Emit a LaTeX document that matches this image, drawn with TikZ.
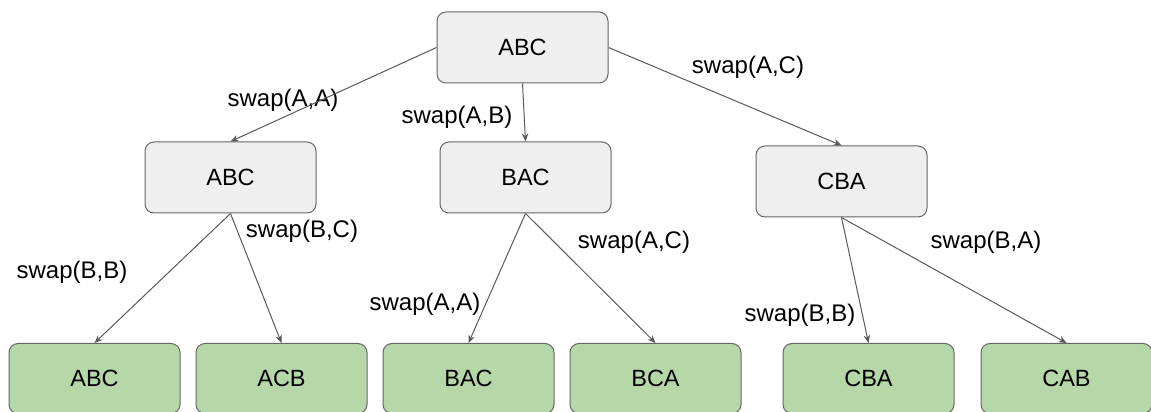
\documentclass[tikz,border=0pt]{standalone}
\usepackage{fontspec}
\setmainfont{Liberation Sans}
\usetikzlibrary{arrows.meta}
\definecolor{boxgray}{HTML}{EFEFEF}
\definecolor{boxgreen}{HTML}{B6D7A8}
\definecolor{bordergray}{HTML}{666666}
\definecolor{linegray}{HTML}{595959}
\tikzstyle{state} = [rectangle, rounded corners=9pt, minimum width=171pt, minimum height=71pt, text centered, draw=bordergray, line width=1pt, fill=boxgray, font=\fontsize{23.5}{27}\selectfont]
\tikzstyle{leaf} = [state, fill=boxgreen, minimum height=70pt]
\tikzstyle{swaptext} = [inner sep=0pt, font=\fontsize{24}{28}\selectfont]
\tikzstyle{arrow} = [line width=1pt, draw=linegray, ->, >={Stealth[length=8pt,width=6.5pt]}]
\begin{document}
\begin{tikzpicture}[x=1pt, y=1pt, node distance=130pt]
\useasboundingbox (0,0) rectangle (1151,412);
\node (root) [state] at (522.5,364.5) {ABC};
\node (abc) [state, below of=root, xshift=-292pt] {ABC};
\node (bac) [state, below of=root, xshift=3pt] {BAC};
\node (cba) [state, below of=root, xshift=319pt, yshift=-4pt] {CBA};

\node (leafabc) [leaf, below of=abc, xshift=-136pt, yshift=-71pt] {ABC};
\node (leafacb) [leaf, right of=leafabc, xshift=57pt] {ACB};
\node (leafbac) [leaf, right of=leafacb, xshift=57pt] {BAC};
\node (leafbca) [leaf, right of=leafbac, xshift=57pt] {BCA};
\node (leafcba) [leaf, right of=leafbca, xshift=83pt] {CBA};
\node (leafcab) [leaf, right of=leafcba, xshift=68pt] {CAB};

\node (swapaa) [swaptext] at (283,312) {swap(A,A)};
\node (swapab) [swaptext] at (457,295) {swap(A,B)};
\node (swapac) [swaptext] at (748,345) {swap(A,C)};
\node (swapbc) [swaptext] at (302,181) {swap(B,C)};
\node (swapbb) [swaptext] at (72,140) {swap(B,B)};
\node (swapacmid) [swaptext] at (634,170) {swap(A,C)};
\node (swapaamid) [swaptext] at (425,108) {swap(A,A)};
\node (swapba) [swaptext] at (986,170) {swap(B,A)};
\node (swapbbright) [swaptext] at (800,97) {swap(B,B)};

\draw [arrow] (root.west) -- (abc.north);
\draw [arrow] (root.south) -- (bac.north);
\draw [arrow] (root.east) -- (cba.north);
\draw [arrow] (abc.south) -- (leafabc.north);
\draw [arrow] (abc.south) -- (leafacb.north);
\draw [arrow] (bac.south) -- (leafbac.north);
\draw [arrow] (bac.south) -- (leafbca.north);
\draw [arrow] (cba.south) -- (leafcba.north);
\draw [arrow] (cba.south) -- (leafcab.north);
\end{tikzpicture}
\end{document}
